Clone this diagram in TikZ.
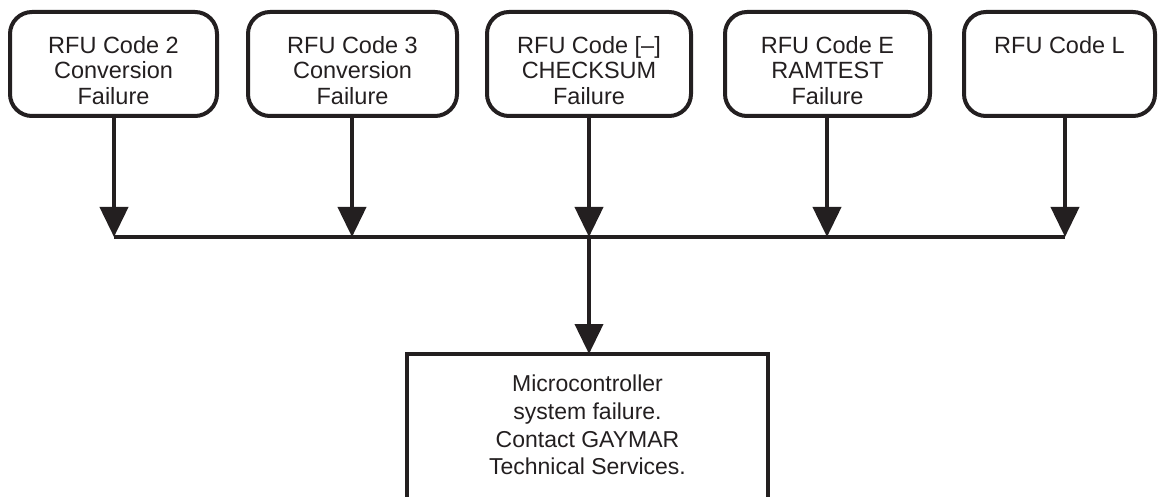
\documentclass[tikz,border=0pt]{standalone}
\usepackage{fontspec}
\setmainfont{Liberation Sans}
\usetikzlibrary{arrows.meta}
\definecolor{ink}{HTML}{231F20}
\begin{document}
\begin{tikzpicture}[x=1pt,y=-1pt,
  rbox/.style={draw=ink,line width=4pt,rounded corners=22pt,minimum height=104pt,inner sep=0pt,outer sep=0pt},
  sbox/.style={draw=ink,line width=4pt,minimum width=361pt,minimum height=200pt,inner sep=0pt,outer sep=0pt},
  toptxt/.style={anchor=north,inner sep=0pt,align=center,text=ink,font=\fontsize{23.5}{25.5}\selectfont},
  bottxt/.style={anchor=north,inner sep=0pt,align=center,text=ink,font=\fontsize{23}{27.7}\selectfont},
  wire/.style={draw=ink,line width=4pt},
  arr/.style={wire,-{Triangle[length=30pt,width=28pt]}}]
\useasboundingbox (0,0) rectangle (1159,497);
\clip (0,0) rectangle (1159,497);
% top boxes
\node[rbox,minimum width=207pt] (b1) at (113.5,64) {};
\node[rbox,minimum width=209pt] (b2) at (352.5,64) {};
\node[rbox,minimum width=204pt] (b3) at (589,64) {};
\node[rbox,minimum width=205pt] (b4) at (827.5,64) {};
\node[rbox,minimum width=191pt] (b5) at (1059.5,64) {};
\node[toptxt] (t1) at (113.5,36) {RFU Code 2\\Conversion\\Failure};
\node[toptxt] (t2) at (352.5,36) {RFU Code 3\\Conversion\\Failure};
\node[toptxt] (t3) at (589,36) {RFU Code [–]\\CHECKSUM\\Failure};
\node[toptxt] (t4) at (827.5,36) {RFU Code E\\RAMTEST\\Failure};
\node[toptxt] (t5) at (1059.5,36) {RFU Code L};
% bottom box
\node[sbox] (bot) at (587.5,454) {};
\node[bottxt] (tb) at (587.5,375) {Microcontroller\\system failure.\\Contact GAYMAR\\Technical Services.};
% bus coordinates
\coordinate (j1) at (114,237);
\coordinate (j2) at (352,237);
\coordinate (j3) at (589,237);
\coordinate (j4) at (827,237);
\coordinate (j5) at (1065,237);
% connectors
\draw[arr] (j1 |- b1.south) -- (j1);
\draw[arr] (j2 |- b2.south) -- (j2);
\draw[arr] (j3 |- b3.south) -- (j3);
\draw[arr] (j4 |- b4.south) -- (j4);
\draw[arr] (j5 |- b5.south) -- (j5);
\draw[wire] (j1) -- (j5);
\draw[arr] (j3) -- (j3 |- bot.north);
\end{tikzpicture}
\end{document}
